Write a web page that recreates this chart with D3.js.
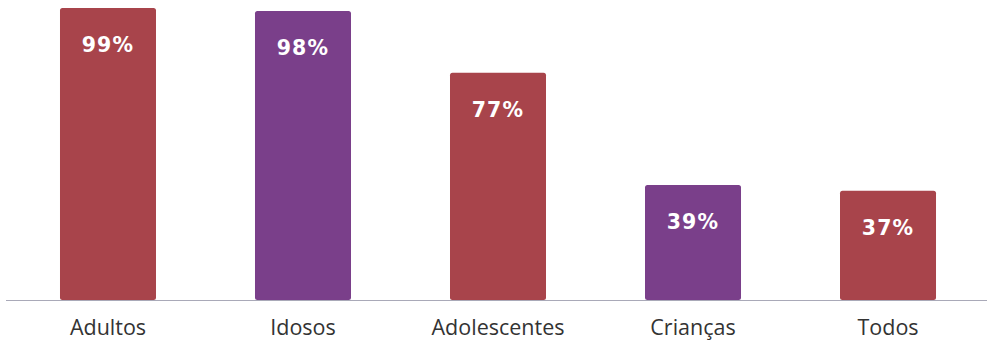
<!DOCTYPE html>
<html>
<head>
<meta charset="utf-8">
<script src="https://cdn.jsdelivr.net/npm/d3@7"></script>
<style>
  html, body { margin: 0; padding: 0; background: #fff; }
  svg { display: block; }
</style>
</head>
<body>
<svg id="chart" width="987" height="342"></svg>
<script>
// Share of each group (percent)
const categories = ["Adultos", "Idosos", "Adolescentes", "Crianças", "Todos"];
const values = [99, 98, 77, 39, 37];
const barColors = ["#A8444B", "#7A3F8A", "#A8444B", "#7A3F8A", "#A8444B"];

const svg = d3.select("#chart");
const baseY = 300;

const x = d3.scaleBand()
  .domain(categories)
  .range([10.5, 985.5])
  .paddingInner(0.5077)
  .paddingOuter(0.2538);

const y = d3.scaleLinear()
  .domain([0, 100])
  .range([baseY, 5]);

// Bars
svg.append("g")
  .selectAll("rect")
  .data(categories)
  .join("rect")
  .attr("x", d => x(d))
  .attr("y", (d, i) => y(values[i]))
  .attr("width", x.bandwidth())
  .attr("height", (d, i) => y(0) - y(values[i]))
  .attr("rx", 2.5)
  .attr("fill", (d, i) => barColors[i]);

// Baseline
svg.append("line")
  .attr("x1", 6).attr("x2", 987)
  .attr("y1", baseY + 0.5).attr("y2", baseY + 0.5)
  .attr("stroke", "#a9a9b8")
  .attr("stroke-width", 1.2);

// Value labels inside the bars
svg.append("g")
  .selectAll("text")
  .data(categories)
  .join("text")
  .attr("x", d => x(d) + x.bandwidth() / 2)
  .attr("y", (d, i) => y(values[i]) + 44)
  .attr("text-anchor", "middle")
  .attr("fill", "#ffffff")
  .style("font-family", "'DejaVu Sans', sans-serif")
  .style("font-weight", "bold")
  .style("font-size", "20.5px")
  .style("letter-spacing", "1.2px")
  .text((d, i) => values[i] + "%");

// Category axis labels
const xAxis = d3.axisBottom(x).tickSize(0).tickPadding(0);
const axisG = svg.append("g")
  .attr("transform", `translate(0,${baseY})`)
  .call(xAxis);
axisG.select(".domain").remove();
axisG.selectAll("text")
  .attr("dy", null)
  .attr("y", 35)
  .attr("fill", "#333333")
  .style("font-family", "'Open Sans', sans-serif")
  .style("font-size", "21.5px");
</script>
</body>
</html>
